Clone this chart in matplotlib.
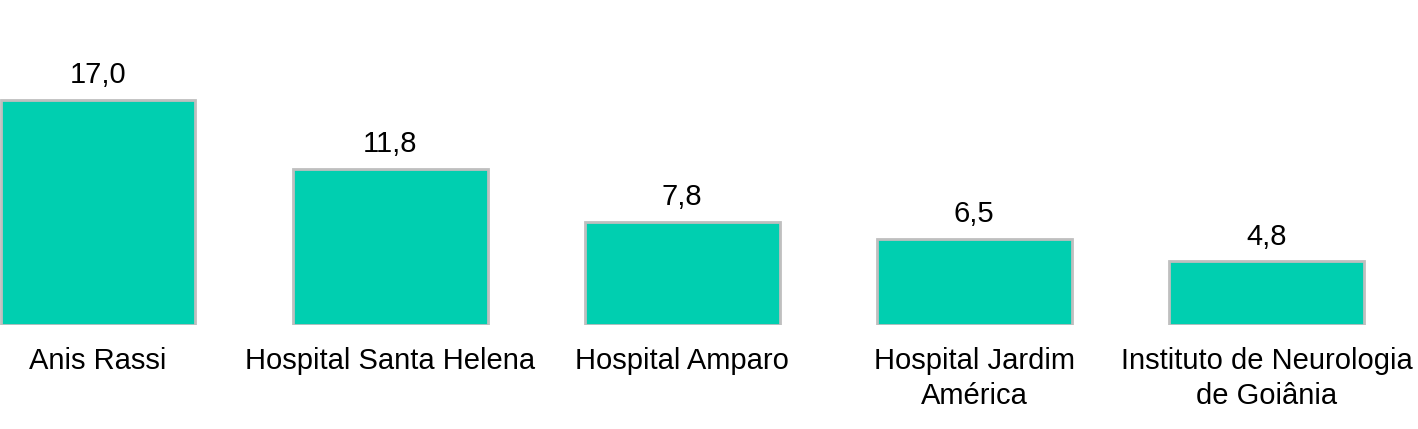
import matplotlib.pyplot as plt

hospitals = ["Anis Rassi", "Hospital Santa Helena", "Hospital Amparo",
             "Hospital Jardim\nAmérica", "Instituto de Neurologia\nde Goiânia"]
values = [17.0, 11.8, 7.8, 6.5, 4.8]
value_labels = ["17,0", "11,8", "7,8", "6,5", "4,8"]

plt.rcParams['font.family'] = ['Liberation Sans', 'DejaVu Sans']

fig = plt.figure(figsize=(14.18, 4.29), dpi=100)
ax = fig.add_axes([0, 104 / 429, 1, 325 / 429])

x = list(range(len(values)))
ax.bar(x, values, width=0.667, color='#00CFB0', edgecolor='#BFBFBF', linewidth=2)

for xi, v, lab in zip(x, values, value_labels):
    ax.annotate(lab, (xi, v), xytext=(0, 12), textcoords='offset points',
                ha='center', va='baseline', fontsize=21)

ax.set_xlim(-98 / 292.1, (1418 - 98) / 292.1)
ax.set_ylim(0, 325 / 13.24)
ax.set_xticks(x)
ax.set_xticklabels(hospitals, fontsize=21, linespacing=1.3)
ax.tick_params(axis='x', length=0, pad=16)
ax.tick_params(axis='y', left=False, labelleft=False)
for s in ax.spines.values():
    s.set_visible(False)

fig.savefig("out.png", dpi=100)
